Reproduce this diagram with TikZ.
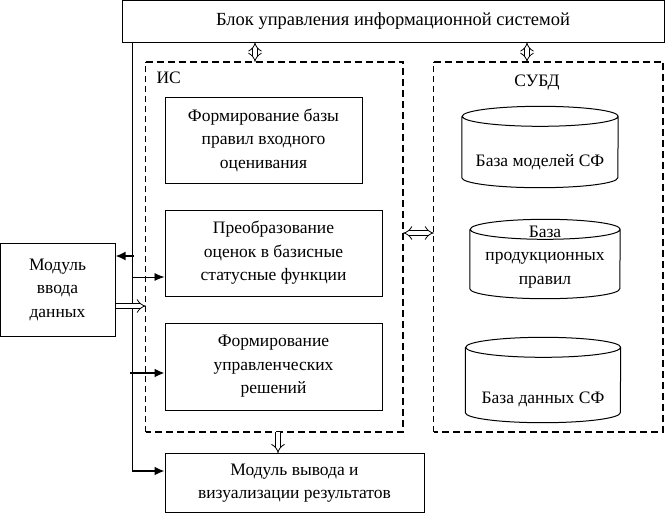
\documentclass[tikz,border=0pt]{standalone}
\usepackage{fontspec}
\setmainfont{Liberation Serif}
\usetikzlibrary{arrows.meta}

\tikzset{
  blok/.style={draw, line width=1pt, align=center, inner sep=0pt},
  baza/.style={inner sep=0pt},
  strelka/.style={line width=1.8pt, -{Latex[length=10pt,width=9pt]}},
  tonkaya/.style={line width=0.8pt, -{Latex[length=10pt,width=8pt]}},
  polaya/.style={double, double distance=4pt, line width=0.8pt, -{Implies}},
  polaya2/.style={double, double distance=4pt, line width=0.8pt, {Implies}-{Implies}},
  tonkpunkt/.style={line width=0.8pt, dash pattern=on 6pt off 4pt},
  tolstpunkt/.style={line width=2.4pt, dash pattern=on 7pt off 4pt},
}
% цилиндр базы: имя узла, полуширина
\newcommand{\cilindr}[2]{
  \draw[line width=1pt] ([yshift=-10pt]#1.north west) -- ([yshift=10pt]#1.south west)
    arc[start angle=180, end angle=360, x radius=#2pt, y radius=10pt]
    -- ([yshift=-10pt]#1.north east)
    arc[start angle=0, end angle=180, x radius=#2pt, y radius=10pt]
    arc[start angle=180, end angle=360, x radius=#2pt, y radius=10pt];
}

\begin{document}
\begin{tikzpicture}[x=1pt,y=-1pt,font=\fontsize{17.5}{23.5}\selectfont]
  \useasboundingbox (0,0) rectangle (666,515);
  % верхний блок
  \node[blok, minimum width=542pt, minimum height=42pt] (upr) at (393,21) {\fontsize{18.5}{22}\selectfont Блок управления информационной системой};
  % пунктирные области
  \node[minimum width=257pt, minimum height=370pt] (is) at (274.5,247) {};
  \node[minimum width=229pt, minimum height=370pt] (subd) at (548.5,247) {};
  \draw[tonkpunkt] (is.south west) -- (is.north west);
  \draw[tolstpunkt] (is.north west) -- (is.north east) -- (is.south east) -- (is.south west);
  \draw[tonkpunkt] (subd.south west) -- (subd.north west);
  \draw[tolstpunkt] (subd.north west) -- (subd.north east) -- (subd.south east) -- (subd.south west);
  \node[anchor=west] (islbl) at (153,78) {ИС};
  \node (subdlbl) at (537,83) {СУБД};
  % блоки ИС
  \node[blok, minimum width=197pt, minimum height=86pt] (formbaz) at (263.5,140) {Формирование базы\\правил входного\\оценивания};
  \node[blok, minimum width=217pt, minimum height=86pt] (preob) at (273.5,253) {Преобразование\\оценок в базисные\\статусные функции};
  \node[blok, minimum width=217pt, minimum height=87pt] (formup) at (273.5,366.5) {Формирование\\управленческих\\решений};
  % модули
  \node[blok, minimum width=115pt, minimum height=93pt] (vvod) at (57.5,289.5) {Модуль\\ввода\\данных};
  \node[blok, minimum width=259pt, minimum height=59pt] (vyvod) at (294.5,483) {Модуль вывода и\\визуализации результатов};
  % базы СУБД
  \node[baza, minimum width=156pt, minimum height=81pt] (bmod) at (540,147) {};
  \node[baza, minimum width=150pt, minimum height=79pt] (bprav) at (545,259) {};
  \node[baza, minimum width=155pt, minimum height=85pt] (bdan) at (543,380) {};
  \cilindr{bmod}{78}
  \cilindr{bprav}{75}
  \cilindr{bdan}{77.5}
  \node (bmodt) at (540,162) {База моделей СФ};
  \node[align=center] (bpravt) at (545,257) {База\\продукционных\\правил};
  \node (bdant) at (543,399) {База данных СФ};
  % шина
  \coordinate (shtop) at (132,42);
  \coordinate (shbot) at (132,471);
  \draw[line width=0.8pt] (shtop) -- (shbot);
  \draw[strelka] (shbot) -- (shbot -| vyvod.west);
  \draw[strelka] (134,256) -- (vvod.east |- 0,256);
  \draw[tonkaya] (132,277) -- (preob.west |- 0,277);
  \draw[strelka] (130,373) -- (formup.west |- 0,373);
  % полые стрелки
  \draw[polaya] (vvod.east |- 0,306) -- (is.west |- 0,306);
  \draw[polaya2] (upr.south -| 255,0) -- (is.north -| 255,0);
  \draw[polaya2] (upr.south -| 527,0) -- (subd.north -| 527,0);
  \draw[polaya2] (is.east |- 0,233) -- (subd.west |- 0,233);
  \draw[polaya] (is.south -| 278,0) -- (vyvod.north -| 278,0);
\end{tikzpicture}
\end{document}
